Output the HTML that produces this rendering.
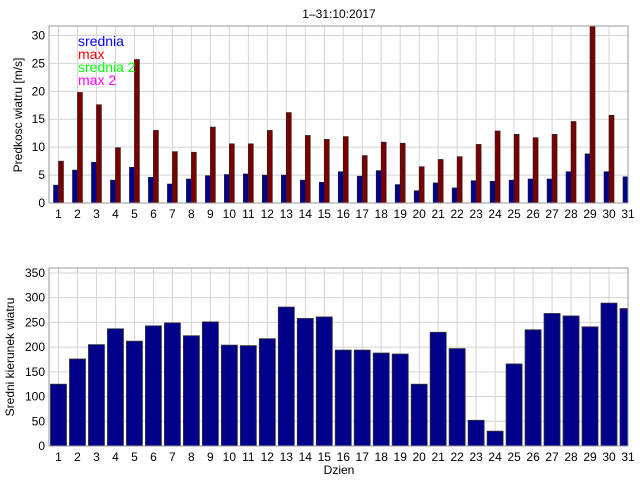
<!DOCTYPE html>
<html><head><meta charset="utf-8"><style>
body{margin:0;background:#fff;}
svg{display:block;font-family:"Liberation Sans",sans-serif;}
</style></head><body>
<svg id="c" width="640" height="480"></svg>
<script>
const days=[1,2,3,4,5,6,7,8,9,10,11,12,13,14,15,16,17,18,19,20,21,22,23,24,25,26,27,28,29,30,31];
const avgSpeed=[3.2,5.9,7.3,4.1,6.4,4.6,3.4,4.3,4.9,5.1,5.2,5.0,5.0,4.1,3.7,5.6,4.8,5.8,3.3,2.2,3.6,2.7,4.0,3.9,4.1,4.3,4.3,5.6,8.8,5.6,4.7];
const maxSpeed=[7.5,19.8,17.6,9.9,25.7,13.0,9.2,9.1,13.6,10.6,10.6,13.0,16.2,12.1,11.4,11.9,8.5,10.9,10.7,6.5,7.8,8.3,10.5,12.9,12.3,11.7,12.3,14.6,32,15.7,12];
const direction=[125,176,205,237,212,243,249,223,251,204,203,217,281,258,261,194,194,188,186,125,230,197,52,30,166,235,268,263,241,289,278];
const speedTicks=[0,5,10,15,20,25,30];
const dirTicks=[0,50,100,150,200,250,300,350];
const legendLabels=["srednia","max","srednia 2","max 2"];
const legendColors=["#0000ff","#ff0000","#00ff00","#ff00ff"];

const svg=document.getElementById('c');
const NS='http://www.w3.org/2000/svg';
function mk(tag,attrs,parent){const e=document.createElementNS(NS,tag);for(const k in attrs)e.setAttribute(k,attrs[k]);(parent||svg).appendChild(e);return e;}
const L=49,R=628;
const xs=d=>L+(d-0.5)*(R-L)/30.5;

function panel(top,bottom,ymax,ticks,name){
  const ys=v=>bottom-v*(bottom-top)/ymax;
  const g=mk('g',{});
  
  
  ticks.forEach(t=>{
    const l=mk('line',{x1:L,x2:R,y1:ys(t),y2:ys(t),stroke:'#d4d4d4','stroke-width':1},g);
    
    
    const tx=mk('text',{x:L-4,y:ys(t)+4,'text-anchor':'end','font-size':12,fill:'#000'},g);
    tx.textContent=t;
    
    
  });
  days.forEach(d=>{
    const l=mk('line',{x1:xs(d),x2:xs(d),y1:top,y2:bottom,stroke:'#d4d4d4','stroke-width':1},g);
    
    
    const tx=mk('text',{x:xs(d),y:bottom+15,'text-anchor':'middle','font-size':12,fill:'#000'},g);
    tx.textContent=d;
    
    
  });
  return {g,ys};
}

const t=mk('text',{x:339,y:18,'text-anchor':'middle','font-size':12});
t.textContent='1–31:10:2017';



// top panel
const p1=panel(26,203,31.7,speedTicks,'speed-panel');
const cp1=mk('clipPath',{id:'cl1'});mk('rect',{x:L,y:26,width:R-L,height:177},cp1);
const bg1=mk('g',{'clip-path':'url(#cl1)'});
days.forEach((d,i)=>{
  const b=mk('rect',{x:xs(d)-5,y:p1.ys(avgSpeed[i]),width:5,height:203-p1.ys(avgSpeed[i]),fill:'#00008b',stroke:'#222','stroke-width':0.6},bg1);
  
  
  const r=mk('rect',{x:xs(d),y:p1.ys(maxSpeed[i]),width:5,height:203-p1.ys(maxSpeed[i]),fill:'#7a0000',stroke:'#222','stroke-width':0.6},bg1);
  
  
});
const f1=mk('rect',{x:L,y:26,width:R-L,height:177,fill:'none',stroke:'#999','stroke-width':1});


legendLabels.forEach((s,i)=>{
  const e=mk('text',{x:78,y:46+i*13,'font-size':14,fill:legendColors[i]});
  e.textContent=s;
  
  
});
const yl1=mk('text',{x:22,y:115,'text-anchor':'middle','font-size':12,transform:'rotate(-90 22 115)'});
yl1.textContent='Predkosc wiatru [m/s]';



// bottom panel
const p2=panel(268,446,360,dirTicks,'direction-panel');
const cp2=mk('clipPath',{id:'cl2'});mk('rect',{x:L,y:268,width:R-L,height:178},cp2);
const bg2=mk('g',{'clip-path':'url(#cl2)'});
days.forEach((d,i)=>{
  const b=mk('rect',{x:xs(d)-8,y:p2.ys(direction[i]),width:16,height:446-p2.ys(direction[i]),fill:'#00008b',stroke:'#333','stroke-width':0.8},bg2);
  
  
});
const f2=mk('rect',{x:L,y:268,width:R-L,height:178,fill:'none',stroke:'#999','stroke-width':1});


const yl2=mk('text',{x:14,y:357,'text-anchor':'middle','font-size':12,transform:'rotate(-90 14 357)'});
yl2.textContent='Sredni kierunek wiatru';


const xl=mk('text',{x:339,y:474,'text-anchor':'middle','font-size':12});
xl.textContent='Dzien';


</script>
</body></html>
